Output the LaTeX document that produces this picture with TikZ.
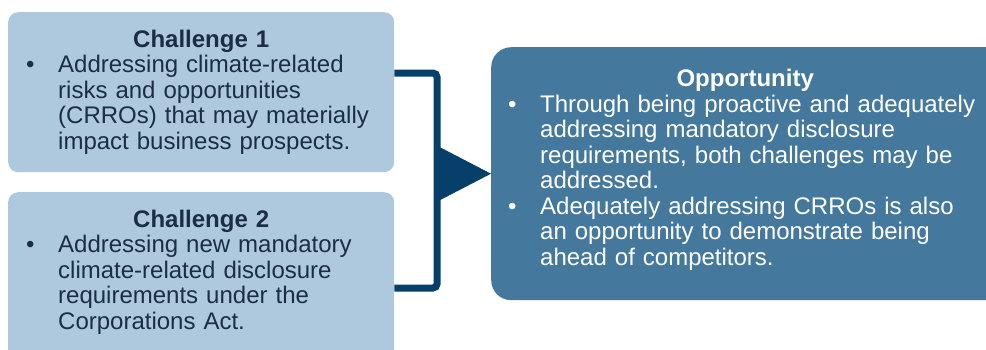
\documentclass[tikz,border=0pt]{standalone}
\usepackage{fontspec}
\setmainfont{Liberation Sans}
\definecolor{lightbox}{RGB}{174,200,221}
\definecolor{darkline}{RGB}{6,64,106}
\definecolor{oppbox}{RGB}{69,120,157}
\definecolor{navytext}{RGB}{28,45,70}
\begin{document}
\begin{tikzpicture}[x=1pt,y=-1pt,
  challenge/.style={fill=lightbox, rounded corners=10pt, minimum width=386pt, inner sep=0pt, anchor=north west},
  oppstyle/.style={fill=oppbox, rounded corners=20pt, minimum width=540pt, minimum height=253pt, inner sep=0pt, anchor=north west},
  bodytext/.style={font=\fontsize{24}{25.5}\selectfont, align=left, inner sep=0pt, anchor=base west},
  bracket/.style={draw=darkline, line width=7pt, rounded corners=4pt},
  tipstyle/.style={fill=darkline}
]
\useasboundingbox (0,0) rectangle (986,349);
\clip (0,0) rectangle (986,349);
\node[challenge, minimum height=160pt] (c1) at (8,12) {};
\node[challenge, minimum height=190pt] (c2) at (8,192) {};
\node[oppstyle] (opp) at (491,47) {};
\node[bodytext, text width=350pt, text=navytext] (t1) at (26,47)
  {{\centering\bfseries Challenge 1\par}\hangindent=32pt\hangafter=1\noindent\makebox[32pt][l]{•}Addressing climate-related\newline risks and opportunities\newline (CRROs) that may materially\newline impact business prospects.\par};
\node[bodytext, text width=350pt, text=navytext] (t2) at (26,227)
  {{\centering\bfseries Challenge 2\par}\hangindent=32pt\hangafter=1\noindent\makebox[32pt][l]{•}Addressing new mandatory\newline climate-related disclosure\newline requirements under the\newline Corporations Act.\par};
\node[bodytext, text width=474pt, text=white] (t3) at (508,86.7)
  {{\centering\bfseries Opportunity\par}\hangindent=32pt\hangafter=1\noindent\makebox[32pt][l]{•}Through being proactive and adequately\newline addressing mandatory disclosure\newline requirements, both challenges may be\newline addressed.\par
  \hangindent=32pt\hangafter=1\noindent\makebox[32pt][l]{•}Adequately addressing CRROs is also\newline an opportunity to demonstrate being\newline ahead of competitors.\par};
\coordinate (btop) at (437,73);
\coordinate (bbot) at (437,288);
\draw[bracket] (c1.east |- btop) -- (btop) -- (bbot) -- (c2.east |- bbot);
\fill[tipstyle] (opp.west) -- ++(-54,-28) -- ++(0,56) -- cycle;
\end{tikzpicture}
\end{document}
